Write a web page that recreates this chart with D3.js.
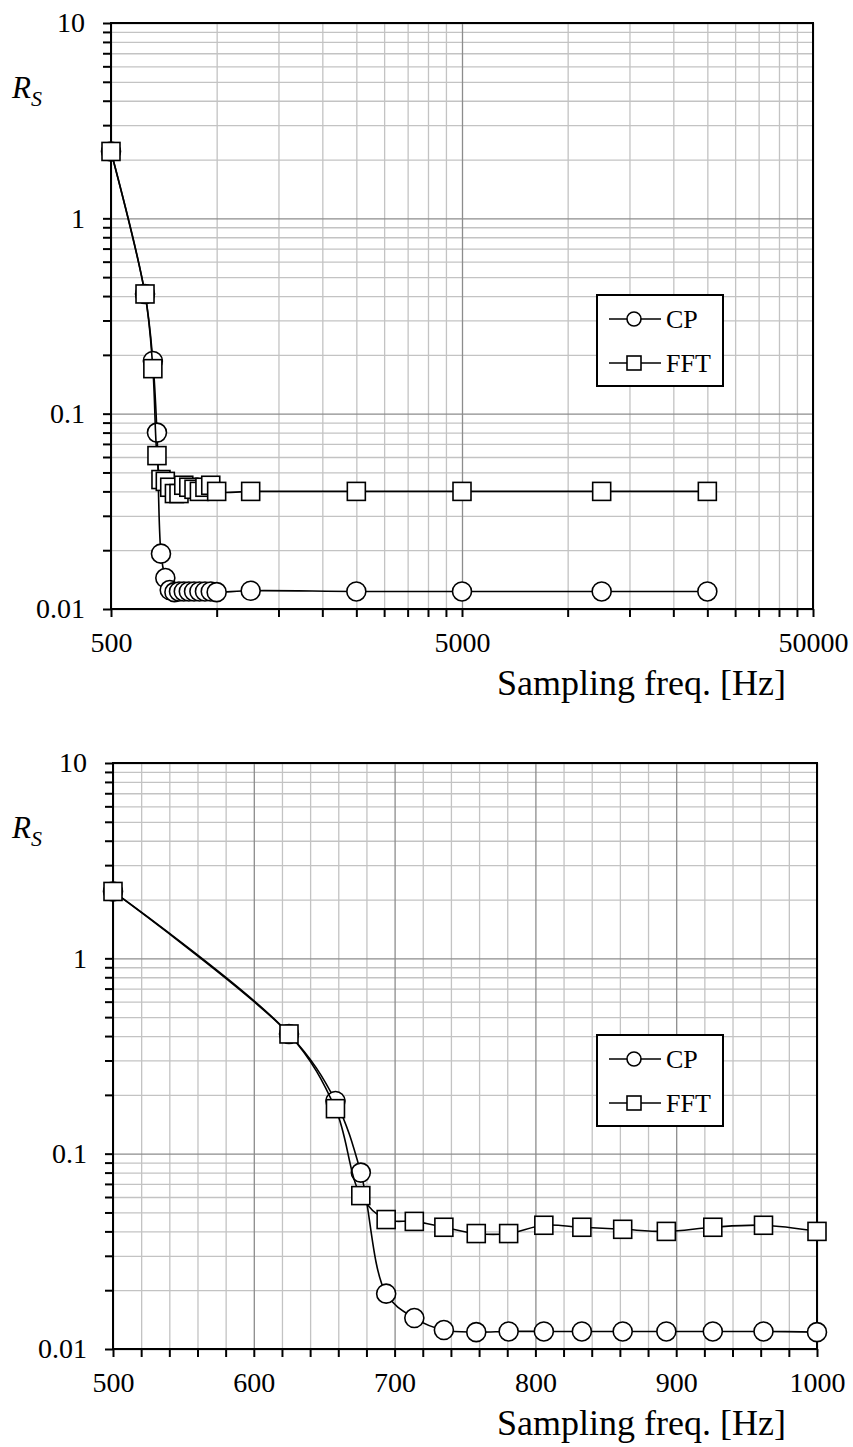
<!DOCTYPE html>
<html>
<head>
<meta charset="utf-8">
<script src="https://cdn.jsdelivr.net/npm/d3@7"></script>
<style>
  body { margin: 0; background: #fff; }
</style>
</head>
<body>
<script>
// Sampling frequencies [Hz] up to 1000 (shown in both panels)
var freqLow = [500, 625, 658, 676, 694, 714, 735, 758, 781, 806, 833, 862, 893, 926, 962, 1000];
var cpLow   = [2.2, 0.41, 0.186, 0.080, 0.0192, 0.0144, 0.0125, 0.0122, 0.0123, 0.0123, 0.0123, 0.0123, 0.0123, 0.0123, 0.0123, 0.0122];
var fftLow  = [2.2, 0.41, 0.170, 0.061, 0.046, 0.045, 0.042, 0.039, 0.039, 0.043, 0.042, 0.041, 0.040, 0.042, 0.043, 0.040];

// Higher frequencies, only in the top (log) panel
var freqHigh = [1250, 2500, 5000, 12500, 25000];
var cpHigh   = [0.0124, 0.0123, 0.0123, 0.0123, 0.0123];
var fftHigh  = [0.040, 0.040, 0.040, 0.040, 0.040];

// Tick labels
var yMajor = [0.01, 0.1, 1, 10];
var xMajorTop = [500, 5000, 50000];
var xMajorBottom = [500, 600, 700, 800, 900, 1000];

var seriesNames = ["CP", "FFT"];

var serif = "'Liberation Serif', 'Times New Roman', serif";

// minor ticks / gridlines
var yMinor = [];
[0.01, 0.1, 1].forEach(function(d) {
  for (var k = 2; k <= 9; k++) yMinor.push(+(k * d).toPrecision(3));
});
var xMinorTop = [];
[500, 5000].forEach(function(d) {
  for (var k = 2; k <= 9; k++) xMinorTop.push(k * d);
});
var xMinorBottom = [];
for (var f = 520; f < 1000; f += 20) {
  if (f % 100 != 0) xMinorBottom.push(f);
}

var svg = d3.select("body").append("svg")
  .attr("width", 853)
  .attr("height", 1447);

function styleText(sel, size) {
  sel.style("font-family", serif)
     .style("font-size", size + "px")
     .style("fill", "#000");
}

function drawPanel(cfg) {
  var g = svg.append("g");
  var left = cfg.left, right = cfg.right, top = cfg.top, bottom = cfg.bottom;

  var x = cfg.x.range([left, right]);
  var y = d3.scaleLog().domain([0.01, 10]).range([bottom, top]);

  // minor gridlines
  g.append("g")
    .attr("transform", "translate(0," + bottom + ")")
    .call(d3.axisBottom(x).tickValues(cfg.xMinor).tickSize(-(bottom - top)).tickFormat(""))
    .call(function(a) { a.select(".domain").remove(); a.selectAll("line").attr("stroke", "#c3c3c3").attr("stroke-width", 1.3); });
  g.append("g")
    .attr("transform", "translate(" + left + ",0)")
    .call(d3.axisLeft(y).tickValues(yMinor).tickSize(-(right - left)).tickFormat(""))
    .call(function(a) { a.select(".domain").remove(); a.selectAll("line").attr("stroke", "#c3c3c3").attr("stroke-width", 1.3); });

  // major gridlines
  g.append("g")
    .attr("transform", "translate(0," + bottom + ")")
    .call(d3.axisBottom(x).tickValues(cfg.xMajor).tickSize(-(bottom - top)).tickFormat(""))
    .call(function(a) { a.select(".domain").remove(); a.selectAll("line").attr("stroke", "#8c8c8c").attr("stroke-width", 1.3); });
  g.append("g")
    .attr("transform", "translate(" + left + ",0)")
    .call(d3.axisLeft(y).tickValues(yMajor).tickSize(-(right - left)).tickFormat(""))
    .call(function(a) { a.select(".domain").remove(); a.selectAll("line").attr("stroke", "#8c8c8c").attr("stroke-width", 1.3); });

  // frame
  g.append("rect")
    .attr("x", left).attr("y", top)
    .attr("width", right - left).attr("height", bottom - top)
    .attr("fill", "none").attr("stroke", "#000").attr("stroke-width", 2);

  // tick marks
  g.append("g")
    .attr("transform", "translate(0," + bottom + ")")
    .call(d3.axisBottom(x).tickValues(cfg.xMinor.concat(cfg.xMajor)).tickSize(8).tickFormat(""))
    .call(function(a) { a.select(".domain").remove(); a.selectAll("line").attr("stroke", "#000").attr("stroke-width", 2); });
  g.append("g")
    .attr("transform", "translate(" + left + ",0)")
    .call(d3.axisLeft(y).tickValues(yMinor.concat(yMajor)).tickSize(8).tickFormat(""))
    .call(function(a) { a.select(".domain").remove(); a.selectAll("line").attr("stroke", "#000").attr("stroke-width", 2); });

  // tick labels
  var xl = g.append("g")
    .attr("transform", "translate(0," + bottom + ")")
    .call(d3.axisBottom(x).tickValues(cfg.xMajor).tickSize(8).tickPadding(15).tickFormat(d3.format("d")));
  xl.select(".domain").remove();
  xl.selectAll("line").remove();
  styleText(xl.selectAll("text"), 28);

  var yl = g.append("g")
    .attr("transform", "translate(" + left + ",0)")
    .call(d3.axisLeft(y).tickValues(yMajor).tickSize(8).tickPadding(18).tickFormat(function(d) { return String(d); }));
  yl.select(".domain").remove();
  yl.selectAll("line").remove();
  styleText(yl.selectAll("text"), 28);

  // axis titles
  var xt = g.append("text")
    .attr("x", 786).attr("y", bottom + 86)
    .attr("text-anchor", "end")
    .text("Sampling freq. [Hz]");
  styleText(xt, 36);

  var rs = g.append("text")
    .attr("x", 12).attr("y", top + 75)
    .style("font-style", "italic");
  styleText(rs, 31);
  rs.append("tspan").text("R");
  rs.append("tspan").style("font-size", "22px").attr("dy", 8).text("S");

  // data
  var line = d3.line()
    .x(function(d) { return x(d[0]); })
    .y(function(d) { return y(d[1]); })
    .curve(d3.curveCatmullRom.alpha(0.5));

  var cpData = cfg.freq.map(function(f, i) { return [f, cfg.cp[i]]; });
  var fftData = cfg.freq.map(function(f, i) { return [f, cfg.fft[i]]; });

  g.append("path").datum(cpData)
    .attr("d", line).attr("fill", "none").attr("stroke", "#000").attr("stroke-width", 1.6);
  g.selectAll(".cp").data(cpData).enter().append("circle")
    .attr("class", "cp")
    .attr("cx", function(d) { return x(d[0]); })
    .attr("cy", function(d) { return y(d[1]); })
    .attr("r", 9.5)
    .attr("fill", "#fff").attr("stroke", "#000").attr("stroke-width", 1.6);

  g.append("path").datum(fftData)
    .attr("d", line).attr("fill", "none").attr("stroke", "#000").attr("stroke-width", 1.6);
  g.selectAll(".fft").data(fftData).enter().append("rect")
    .attr("class", "fft")
    .attr("x", function(d) { return x(d[0]) - 9; })
    .attr("y", function(d) { return y(d[1]) - 9; })
    .attr("width", 18).attr("height", 18)
    .attr("fill", "#fff").attr("stroke", "#000").attr("stroke-width", 1.6);

  // legend
  var lg = g.append("g").attr("transform", "translate(597," + cfg.legendTop + ")");
  lg.append("rect")
    .attr("width", 126).attr("height", 91)
    .attr("fill", "#fff").attr("stroke", "#000").attr("stroke-width", 2);
  seriesNames.forEach(function(name, i) {
    var ly = 24 + i * 44;
    lg.append("line")
      .attr("x1", 12).attr("x2", 64).attr("y1", ly).attr("y2", ly)
      .attr("stroke", "#000").attr("stroke-width", 1.6);
    if (name == "CP") {
      lg.append("circle").attr("cx", 37).attr("cy", ly).attr("r", 7)
        .attr("fill", "#fff").attr("stroke", "#000").attr("stroke-width", 1.6);
    } else {
      lg.append("rect").attr("x", 30).attr("y", ly - 7).attr("width", 14).attr("height", 14)
        .attr("fill", "#fff").attr("stroke", "#000").attr("stroke-width", 1.6);
    }
    var t = lg.append("text")
      .attr("x", 69).attr("y", ly + 9)
      .text(name);
    styleText(t, 26);
  });
}

// top panel: logarithmic frequency axis
drawPanel({
  x: d3.scaleLog().domain([500, 50000]),
  left: 111, right: 813, top: 23, bottom: 609,
  xMinor: xMinorTop, xMajor: xMajorTop,
  freq: freqLow.concat(freqHigh),
  cp: cpLow.concat(cpHigh),
  fft: fftLow.concat(fftHigh),
  legendTop: 295
});

// bottom panel: linear frequency axis
drawPanel({
  x: d3.scaleLinear().domain([500, 1000]),
  left: 113, right: 817, top: 763, bottom: 1349,
  xMinor: xMinorBottom, xMajor: xMajorBottom,
  freq: freqLow,
  cp: cpLow,
  fft: fftLow,
  legendTop: 1035
});
</script>
</body>
</html>
